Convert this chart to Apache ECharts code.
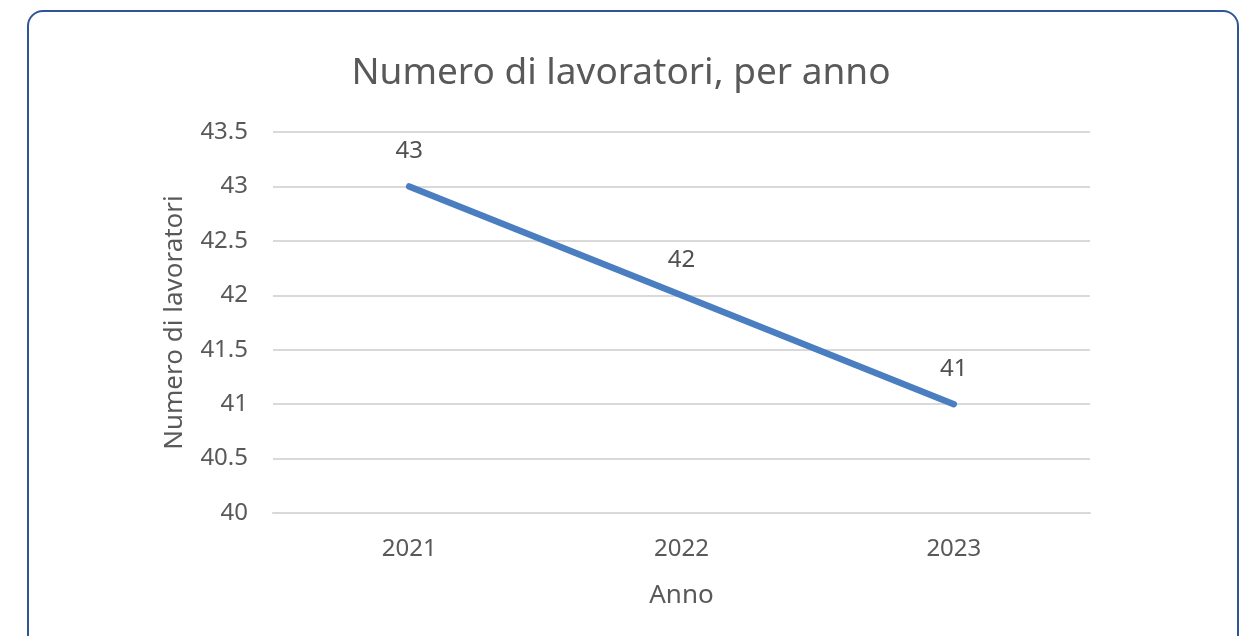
<!DOCTYPE html>
<html>
<head>
<meta charset="utf-8">
<script src="https://cdn.jsdelivr.net/npm/echarts@6/dist/echarts.min.js"></script>
<style>
  html, body { margin: 0; padding: 0; background: #fff; }
  #chart { width: 1242px; height: 636px; }
  .frame {
    position: absolute; left: 27px; top: 10px; width: 1208px; height: 640px;
    border: 2px solid #2f5597; border-radius: 16px; pointer-events: none;
  }
</style>
</head>
<body>
<div id="chart"></div>
<div class="frame"></div>
<script>
// data
const anni = ['2021', '2022', '2023']
const lavoratori = [43, 42, 41]

const font = 'Noto Sans'
const chart = echarts.init(document.getElementById('chart'))
chart.setOption({
  animation: false,
  title: {
    text: 'Numero di lavoratori, per anno',
    left: 'center',
    top: 50,
    textStyle: { fontFamily: font, fontSize: 37, fontWeight: 'normal', color: '#595959' }
  },
  grid: { left: 273, right: 152, top: 132, bottom: 123 },
  xAxis: {
    type: 'category',
    data: anni,
    boundaryGap: true,
    name: 'Anno',
    nameLocation: 'middle',
    nameGap: 70,
    nameTextStyle: { fontFamily: font, fontSize: 26, color: '#595959' },
    axisLine: { lineStyle: { color: '#d9d9d9', width: 2 } },
    axisTick: { show: false },
    axisLabel: { fontFamily: font, fontSize: 24, color: '#595959', margin: 24 }
  },
  yAxis: {
    type: 'value',
    min: 40,
    max: 43.5,
    interval: 0.5,
    name: 'Numero di lavoratori',
    nameLocation: 'middle',
    nameGap: 85,
    nameTextStyle: { fontFamily: font, fontSize: 26, color: '#595959' },
    axisLine: { show: false },
    axisTick: { show: false },
    axisLabel: { fontFamily: font, fontSize: 24, color: '#595959', margin: 25 },
    splitLine: { lineStyle: { color: '#d9d9d9', width: 2 } }
  },
  series: [
    {
      type: 'line',
      data: lavoratori,
      showSymbol: true,
      symbol: 'circle',
      symbolSize: 2,
      itemStyle: { color: 'rgba(74,126,193,0)' },
      lineStyle: { color: '#4a7ec1', width: 6.5, cap: 'round' },
      label: {
        show: true,
        position: 'top',
        distance: 22,
        fontFamily: font,
        fontSize: 24,
        color: '#505050'
      }
    }
  ]
})
</script>
</body>
</html>
